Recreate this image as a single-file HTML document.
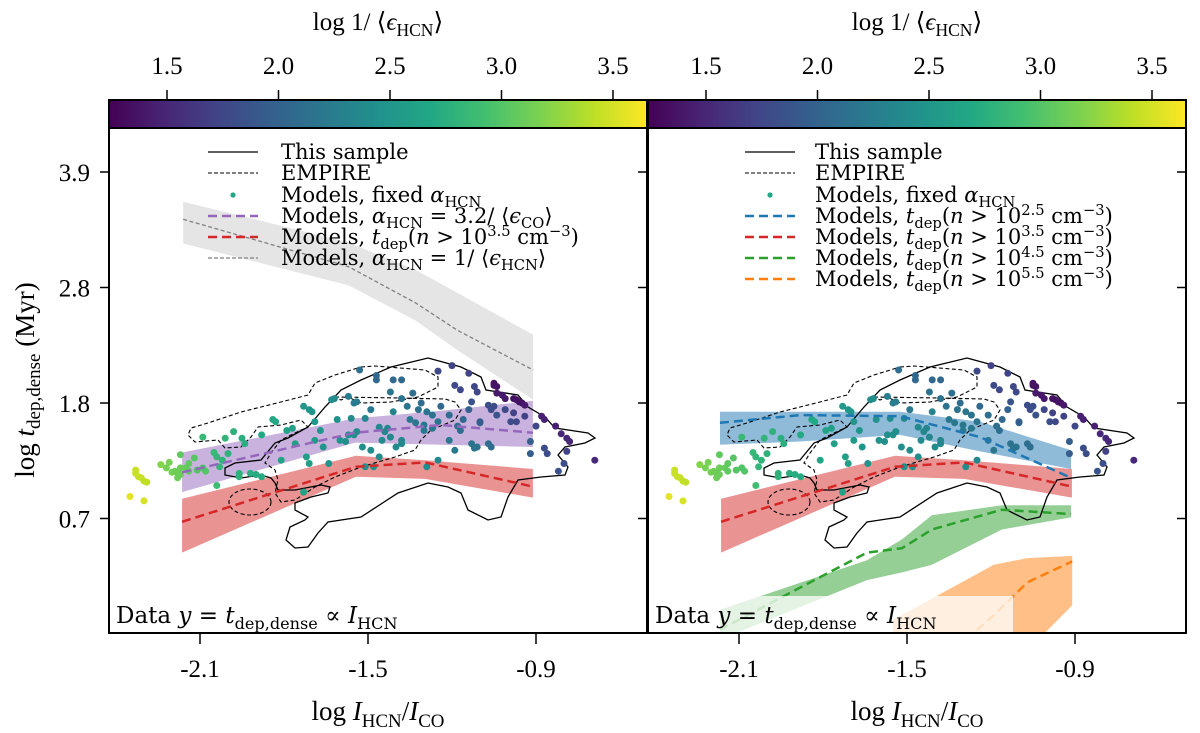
<!DOCTYPE html>
<html><head><meta charset="utf-8"><style>
html,body{margin:0;padding:0;background:#fff}
svg{display:block;font-family:"Liberation Serif","DejaVu Serif",serif}
.dv{font-family:"DejaVu Serif","Liberation Serif",serif}
</style></head><body>
<svg id="chart" width="1200" height="733" viewBox="0 0 1200 733" xmlns="http://www.w3.org/2000/svg">
<defs>
<linearGradient id="viridis" x1="0" x2="1" y1="0" y2="0">
<stop offset="0" stop-color="#440154"/><stop offset="0.1" stop-color="#482475"/><stop offset="0.2" stop-color="#414487"/><stop offset="0.3" stop-color="#355f8d"/><stop offset="0.4" stop-color="#2a788e"/><stop offset="0.5" stop-color="#21918c"/><stop offset="0.6" stop-color="#22a884"/><stop offset="0.7" stop-color="#44bf70"/><stop offset="0.8" stop-color="#7ad151"/><stop offset="0.9" stop-color="#bddf26"/><stop offset="1" stop-color="#fde725"/>
</linearGradient>
<clipPath id="clipL"><rect x="110" y="128" width="537" height="505"/></clipPath>
<clipPath id="clipR"><rect x="648" y="128" width="537" height="505"/></clipPath>
</defs>
<g id="root"></g>
</svg>
<script>
// ---- data ----
const xTicks = [-2.1, -1.5, -0.9];
const xTickLabels = ["-2.1", "-1.5", "-0.9"];
const yTicks = [0.75, 1.8, 2.85, 3.9];
const yTickLabels = ["0.7", "1.8", "2.8", "3.9"];
const cbTicks = [1.5, 2.0, 2.5, 3.0, 3.5];
const cbTickLabels = ["1.5", "2.0", "2.5", "3.0", "3.5"];

const ptX = [-2.35,-2.30,-2.33,-2.33,-2.32,-2.31,-2.30,-2.29,
-2.24,-2.22,-2.21,-2.20,-2.19,-2.18,-2.18,-2.17,-2.17,-2.15,-2.14,-2.14,-2.12,-2.11,-2.08,-2.09,-2.17,-2.04,
-2.09,-2.05,-2.04,-2.03,-2.02,-2.01,-2.00,-1.98,-1.96,-1.96,-1.95,-1.94,-1.92,-1.90,-1.88,-1.88,-1.84,-1.83,-1.81,-1.79,-1.77,-1.76,-1.73,-1.72,-1.71,-1.69,-1.73,-1.71,-1.70,
-1.69,-1.67,-1.66,-1.64,-1.63,-1.62,-1.61,-1.60,-1.58,-1.57,-1.56,-1.55,-1.54,-1.52,-1.51,-1.51,-1.49,-1.48,-1.46,-1.46,-1.45,-1.44,-1.43,-1.42,-1.41,-1.40,-1.38,-1.38,-1.29,-1.25,
-1.57,-1.55,-1.54,-1.53,-1.49,-1.47,-1.47,-1.42,-1.41,-1.38,-1.38,-1.36,-1.35,-1.34,-1.33,-1.32,-1.31,-1.30,-1.30,-1.29,-1.27,-1.27,-1.25,-1.24,-1.21,-1.21,-1.19,-1.18,-1.17,-1.16,-1.14,-1.13,-1.12,-1.11,-1.10,-1.07,-1.06,
-1.25,-1.20,-1.19,-1.17,-1.14,-1.13,-1.12,-1.11,-1.10,-1.07,-1.06,-1.05,-1.04,-1.01,-0.99,-0.98,-0.97,-0.94,-0.92,-0.92,-0.90,-0.87,-0.86,-0.82,-0.80,-0.79,
-1.05,-1.05,-1.04,-1.04,-1.02,-1.01,-0.98,-0.97,-0.96,-0.95,-0.94,-0.88,-0.87,-0.83,-0.81,-0.79,-0.78,-0.69];
const ptY = [0.95,0.91,1.19,1.16,1.13,1.12,1.09,1.08,
1.24,1.21,1.26,1.17,1.18,1.16,1.12,1.21,1.15,1.21,1.25,1.18,1.30,1.19,1.18,1.21,1.33,1.05,
1.49,1.35,1.31,1.22,1.28,1.48,1.34,1.54,1.16,1.13,1.48,1.43,1.16,1.15,1.13,1.51,1.65,1.63,1.28,1.55,1.57,1.43,0.99,1.31,1.25,1.46,1.77,1.74,1.72,
1.63,1.55,1.40,1.25,1.83,1.84,1.65,1.46,1.45,1.51,1.66,1.51,1.54,1.40,1.22,1.66,1.37,1.22,1.31,1.58,1.46,1.54,1.57,1.49,1.72,1.40,1.43,1.46,1.22,1.28,
1.86,1.80,1.81,2.10,1.74,2.05,2.01,1.90,2.01,2.01,1.84,1.77,1.65,1.89,1.62,1.74,1.80,1.60,1.55,1.72,1.69,1.57,1.63,1.77,1.69,1.46,1.37,1.59,1.55,1.65,1.74,1.43,1.39,1.40,1.62,1.43,1.40,
2.09,2.14,1.96,1.92,2.07,1.81,1.95,1.90,1.63,1.78,1.74,1.77,1.69,1.74,1.63,1.71,1.63,1.68,1.45,1.34,1.59,1.39,1.34,1.18,1.25,1.36,
1.98,1.96,1.95,1.89,1.87,1.84,1.84,1.83,1.81,1.80,1.78,1.68,1.65,1.59,1.52,1.48,1.45,1.28];
const ptC = [3.55,3.5,3.45,3.45,3.45,3.45,3.42,3.42,
3.2,3.15,3.15,3.15,3.12,3.12,3.1,3.1,3.1,3.08,3.05,3.05,3.0,3.0,3.0,2.98,3.05,2.9,
2.85,2.85,2.82,2.82,2.8,2.8,2.78,2.78,2.78,2.78,2.75,2.75,2.75,2.72,2.72,2.7,2.68,2.68,2.65,2.62,2.6,2.6,2.62,2.6,2.6,2.55,2.52,2.5,2.5,
2.5,2.48,2.48,2.48,2.4,2.4,2.45,2.45,2.42,2.42,2.4,2.42,2.4,2.42,2.42,2.35,2.4,2.42,2.4,2.35,2.38,2.35,2.35,2.35,2.3,2.38,2.35,2.35,2.4,2.35,
2.25,2.25,2.25,2.1,2.2,2.05,2.05,2.15,2.05,2.05,2.15,2.15,2.2,2.1,2.2,2.15,2.1,2.2,2.22,2.15,2.15,2.2,2.15,2.05,2.1,2.2,2.2,2.1,2.1,2.05,2.0,2.15,2.15,2.15,2.05,2.1,2.1,
1.75,1.7,1.75,1.75,1.7,1.85,1.75,1.75,1.95,1.8,1.8,1.8,1.85,1.75,1.8,1.7,1.75,1.7,1.95,1.95,1.75,1.8,1.8,1.85,1.8,1.7,
1.35,1.35,1.35,1.4,1.4,1.4,1.35,1.35,1.35,1.35,1.4,1.45,1.45,1.45,1.5,1.5,1.5,1.5];

// model bands
const grayX = [-2.16,-1.57,-1.33,-1.18,-0.91];
const grayMid = [3.47,3.04,2.71,2.46,2.10];
const grayHi = [3.63,3.26,3.01,2.80,2.42];
const grayLo = [3.25,2.87,2.55,2.28,1.83];
const purpleX = [-2.164,-1.546,-1.239,-0.911];
const purpleMid = [1.17,1.53,1.60,1.53];
const purpleHi = [1.35,1.66,1.73,1.82];
const purpleLo = [0.99,1.44,1.42,1.40];
const redX = [-2.164,-1.543,-1.296,-0.911];
const redMid = [0.72,1.22,1.26,1.04];
const redHi = [0.93,1.32,1.28,1.20];
const redLo = [0.44,1.13,1.11,0.94];
const blueX = [-2.168,-1.882,-1.525,-1.239,-0.914];
const blueMid = [1.62,1.69,1.68,1.49,1.12];
const blueHi = [1.72,1.72,1.72,1.63,1.37];
const blueLo = [1.42,1.45,1.51,1.36,1.20];
const greenX = [-2.168,-1.643,-1.518,-1.411,-1.161,-0.914];
const greenMid = [-0.26,0.44,0.48,0.65,0.83,0.79];
const greenHi = [-0.08,0.37,0.56,0.78,0.87,0.87];
const greenLo = [-0.35,0.19,0.26,0.33,0.65,0.76];
const orangeX = [-1.55,-1.29,-1.19,-1.07,-0.91];
const orangeMid = [-0.72,-0.35,-0.13,0.17,0.36];
const orangeHi = [-0.17,0.19,0.33,0.39,0.41];
const orangeLo = [-1.45,-1.08,-0.80,-0.45,-0.04];

// contour outlines (left-panel pixel geometry of the KDE contours)
const solidContour = "M428,358 L461,367 481,377 486,390 518,395 528,407 545,417 555,428 588,433 595,438 585,443 565,447 558,455 568,467 565,475 541,477 518,480 508,497 501,517 488,520 468,510 461,493 448,487 428,483 398,493 361,517 328,522 318,533 308,547 295,548 286,540 290,527 305,520 308,517 295,510 295,503 311,497 328,493 330,487 321,485 295,490 278,490 275,483 271,478 261,475 241,478 225,475 225,468 235,463 261,460 275,443 288,438 308,427 325,407 341,390 361,380 391,367 Z";
const dashContour = "M361,367 L375,366 425,370 438,377 438,387 418,397 391,402 361,403 348,397 341,400 335,397 M335,397 L400,398 445,399 455,402 461,410 455,420 431,430 421,440 415,450 395,457 361,467 335,477 315,487 295,500 281,502 275,493 278,480 275,470 265,463 271,453 281,440 295,433 308,427 301,420 281,425 258,427 251,437 241,447 225,448 218,440 195,442 188,435 191,428 208,423 241,412 281,402 308,395 315,383 335,375 361,367";

const NS = "http://www.w3.org/2000/svg";
const root = document.getElementById("root");
function mk(tag, attrs, parent) {
  const e = document.createElementNS(NS, tag);
  for (const k in attrs) e.setAttribute(k, attrs[k]);
  (parent || root).appendChild(e);
  return e;
}
const stops = ["#440154","#482475","#414487","#355f8d","#2a788e","#21918c","#22a884","#44bf70","#7ad151","#bddf26","#fde725"];
function hex(h){return [parseInt(h.slice(1,3),16),parseInt(h.slice(3,5),16),parseInt(h.slice(5,7),16)];}
function viridis(c){
  let t=(c-1.235)/(3.65-1.235); t=Math.max(0,Math.min(1,t));
  const f=t*10, i=Math.min(9,Math.floor(f)), u=f-i;
  const a=hex(stops[i]), b=hex(stops[i+1]);
  return "rgb("+a.map((v,k)=>Math.round(v+(b[k]-v)*u)).join(",")+")";
}
const Y = v => 403 - (v - 1.8) * 110;

function richText(parent, x, y, parts, size, anchor, name, cls) {
  const t = mk("text", {x:x, y:y, "font-size":size, "text-anchor":anchor||"start", fill:"#000"}, parent);
  if (cls) t.setAttribute("class", cls);
  
  
  let shift = 0;
  parts.forEach(p => {
    const s = mk("tspan", {}, t);
    const want = p.sub ? Math.round(size*0.25) : (p.sup ? -Math.round(size*0.38) : 0);
    s.setAttribute("dy", want - shift); shift = want;
    if (p.sub || p.sup) s.setAttribute("font-size", size*0.7);
    if (p.it) s.setAttribute("font-style", "italic");
    s.textContent = p.t;
  });
  return t;
}

function band(g, X, xs, hi, lo, color, op, name){
  let d = xs.map((x,i)=>(i?"L":"M")+X(x)+","+Y(hi[i])).join(" ");
  for (let i=xs.length-1;i>=0;i--) d += " L"+X(xs[i])+","+Y(lo[i]);
  const p = mk("path", {d:d+" Z", fill:color, "fill-opacity":op, stroke:"none"}, g);
  
  
}
function line(g, X, xs, ys, color, w, dash, name){
  const d = xs.map((x,i)=>(i?"L":"M")+X(x)+","+Y(ys[i])).join(" ");
  const p = mk("path", {d:d, fill:"none", stroke:color, "stroke-width":w, "stroke-dasharray":dash}, g);
  
  
}

function panel(ox, right){
  const X = v => ox + 92 + (v + 2.1) * 280;
  const pname = right ? "right" : "left";
  const g = mk("g", {"clip-path": right ? "url(#clipR)" : "url(#clipL)"});
  
  
  if (!right) {
    band(g, X, grayX, grayHi, grayLo, "#d0d0d0", 0.55, "band-alpha-1-over-eps");
    line(g, X, grayX, grayMid, "#808080", 1.3, "4,2.5", "line-alpha-1-over-eps");
    band(g, X, purpleX, purpleHi, purpleLo, "#9467bd", 0.5, "band-alpha-3-2");
  } else {
    band(g, X, blueX, blueHi, blueLo, "#1f77b4", 0.5, "band-tdep-2-5");
    band(g, X, greenX, greenHi, greenLo, "#2ca02c", 0.5, "band-tdep-4-5");
    band(g, X, orangeX, orangeHi, orangeLo, "#ff7f0e", 0.5, "band-tdep-5-5");
  }
  band(g, X, redX, redHi, redLo, "#d62728", 0.5, "band-tdep-3-5");
  const sh = right ? 539 : 0;
  const c1 = mk("path", {d:solidContour, fill:"none", stroke:"#000", "stroke-width":1.3, transform:"translate("+sh+",0)"}, g);
  
  
  const c2 = mk("path", {d:dashContour, fill:"none", stroke:"#000", "stroke-width":1.1, "stroke-dasharray":"4,2.5", transform:"translate("+sh+",0)"}, g);
  
  
  const c3 = mk("ellipse", {cx:250+sh, cy:502, rx:21, ry:13, fill:"none", stroke:"#000", "stroke-width":1.1, "stroke-dasharray":"4,2.5"}, g);
  
  
  ptX.forEach((x,i)=>{
    const c = mk("circle", {cx:X(x), cy:Y(ptY[i]), r:3.5, fill:viridis(ptC[i])}, g);
    
    
  });
  if (!right) {
    line(g, X, purpleX, purpleMid, "#9467bd", 2.5, "9,5", "line-alpha-3-2");
  } else {
    line(g, X, blueX, blueMid, "#1f77b4", 2.5, "9,5", "line-tdep-2-5");
    line(g, X, greenX, greenMid, "#2ca02c", 2.5, "9,5", "line-tdep-4-5");
    line(g, X, orangeX, orangeMid, "#ff7f0e", 2.5, "9,5", "line-tdep-5-5");
  }
  line(g, X, redX, redMid, "#d62728", 2.5, "9,5", "line-tdep-3-5");

  const bx = mk("rect", {x:ox+4, y:596, width:362, height:36, fill:"#fff", "fill-opacity":0.75}, g);
  
  
  richText(g, ox+8, 623, [{t:"Data "},{t:"y",it:true},{t:" = "},{t:"t",it:true},{t:"dep,dense",sub:true},{t:" ∝ "},{t:"I",it:true},{t:"HCN",sub:true}], 23, "start", "data-annotation", "dv");

  const fr = mk("rect", {x:ox+1, y:128, width:538, height:505, fill:"none", stroke:"#000", "stroke-width":2});
  
  

  const cb = mk("rect", {x:ox+1, y:100, width:538, height:28, fill:"url(#viridis)", stroke:"#000", "stroke-width":2});
  
  
  const CB = v => ox + 59 + (v - 1.5) * 223;
  cbTicks.forEach((v,i)=>{
    const tk = mk("line", {x1:CB(v), x2:CB(v), y1:90, y2:100, stroke:"#000", "stroke-width":1.5});
    
    
    const tl = mk("text", {x:CB(v), y:74, "font-size":25, "text-anchor":"middle"});
    
    
    tl.textContent = cbTickLabels[i];
  });
  richText(root, ox+270, 30, [{t:"log 1/ ⟨"},{t:"ϵ",it:true},{t:"HCN",sub:true},{t:"⟩"}], 25, "middle", "colorbar-title");

  xTicks.forEach((v,i)=>{
    const tk = mk("line", {x1:X(v), x2:X(v), y1:633, y2:644, stroke:"#000", "stroke-width":1.5});
    
    
    const tl = mk("text", {x:X(v), y:677, "font-size":25, "text-anchor":"middle"});
    
    
    tl.textContent = xTickLabels[i];
  });
  richText(root, ox+270, 720, [{t:"log "},{t:"I",it:true},{t:"HCN",sub:true},{t:"/"},{t:"I",it:true},{t:"CO",sub:true}], 27, "middle", "x-axis-title");

  yTicks.forEach((v,i)=>{
    if (!right) {
      const tk = mk("line", {x1:100, x2:110, y1:Y(v), y2:Y(v), stroke:"#000", "stroke-width":1.5});
      
      
      const tl = mk("text", {x:90, y:Y(v)+9, "font-size":25, "text-anchor":"end"});
      
      
      tl.textContent = yTickLabels[i];
    }
    const ti = mk("line", {x1:ox+530, x2:ox+539, y1:Y(v), y2:Y(v), stroke:"#000", "stroke-width":1.5});
    
    
  });

  const lg = mk("g", {});
  
  
  const lx = ox + (right ? 98 : 100), tx = ox + (right ? 168 : 173);
  const rows = [152,173,195,216,237,258,279];
  function entry(row, drawFn, parts, name){
    drawFn(rows[row]);
    richText(lg, tx, rows[row]+7, parts, 21, "start", name, "dv");
  }
  entry(0, y=>mk("line",{x1:lx,x2:lx+50,y1:y,y2:y,stroke:"#000","stroke-width":1.3},lg), [{t:"This sample"}], "legend-this-sample");
  entry(1, y=>mk("line",{x1:lx,x2:lx+50,y1:y,y2:y,stroke:"#000","stroke-width":1.1,"stroke-dasharray":"4,2"},lg), [{t:"EMPIRE"}], "legend-empire");
  entry(2, y=>mk("circle",{cx:lx+25,cy:y,r:2.6,fill:"#22a884"},lg), [{t:"Models, fixed "},{t:"α",it:true},{t:"HCN",sub:true}], "legend-fixed-alpha");
  if (!right) {
    entry(3, y=>mk("line",{x1:lx,x2:lx+50,y1:y,y2:y,stroke:"#9467bd","stroke-width":2.5,"stroke-dasharray":"9,5"},lg), [{t:"Models, "},{t:"α",it:true},{t:"HCN",sub:true},{t:" = 3.2/ ⟨"},{t:"ϵ",it:true},{t:"CO",sub:true},{t:"⟩"}], "legend-alpha-3-2");
    entry(4, y=>mk("line",{x1:lx,x2:lx+50,y1:y,y2:y,stroke:"#d62728","stroke-width":2.5,"stroke-dasharray":"9,5"},lg), [{t:"Models, "},{t:"t",it:true},{t:"dep",sub:true},{t:"("},{t:"n",it:true},{t:" > 10"},{t:"3.5",sup:true},{t:" cm"},{t:"−3",sup:true},{t:")"}], "legend-tdep-3-5");
    entry(5, y=>mk("line",{x1:lx,x2:lx+50,y1:y,y2:y,stroke:"#808080","stroke-width":1.3,"stroke-dasharray":"4,2"},lg), [{t:"Models, "},{t:"α",it:true},{t:"HCN",sub:true},{t:" = 1/ ⟨"},{t:"ϵ",it:true},{t:"HCN",sub:true},{t:"⟩"}], "legend-alpha-1-over-eps");
  } else {
    const cols = ["#1f77b4","#d62728","#2ca02c","#ff7f0e"], ex = ["2.5","3.5","4.5","5.5"];
    cols.forEach((col,k)=>{
      entry(3+k, y=>mk("line",{x1:lx,x2:lx+50,y1:y,y2:y,stroke:col,"stroke-width":2.5,"stroke-dasharray":"9,5"},lg), [{t:"Models, "},{t:"t",it:true},{t:"dep",sub:true},{t:"("},{t:"n",it:true},{t:" > 10"},{t:ex[k],sup:true},{t:" cm"},{t:"−3",sup:true},{t:")"}], "legend-tdep-" + ex[k].replace(".","-"));
    });
  }
}
panel(108, false);
panel(647, true);
const yt = mk("text", {x:0, y:0, "font-size":27, "text-anchor":"middle", transform:"translate(34,380) rotate(-90)"});


yt.innerHTML = 'log <tspan font-style="italic">t</tspan><tspan dy="6" font-size="19">dep,dense</tspan><tspan dy="-6"> (Myr)</tspan>';
</script>
</body></html>
